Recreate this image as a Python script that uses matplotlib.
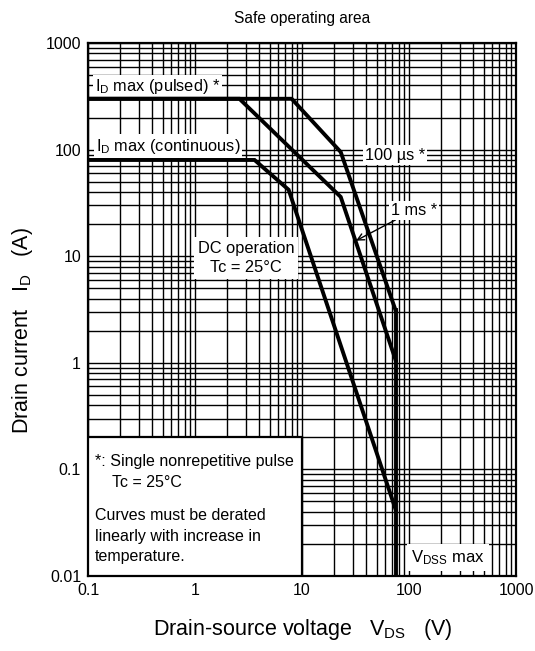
import matplotlib
matplotlib.use("Agg")
import matplotlib.pyplot as plt
from matplotlib.ticker import LogLocator, NullFormatter, FixedFormatter, FixedLocator
from matplotlib.patches import Rectangle

plt.rcParams['font.family'] = ['Liberation Sans', 'DejaVu Sans']
plt.rcParams['mathtext.fontset'] = 'custom'
plt.rcParams['mathtext.rm'] = 'Liberation Sans'
plt.rcParams['mathtext.it'] = 'Liberation Sans'

# safe operating area curves (VDS in V, ID in A)
v_100us = [0.1, 8.0, 23, 75]
i_100us = [300, 300, 95, 3.1]
v_1ms = [0.1, 2.6, 23, 75]
i_1ms = [300, 300, 36, 1.06]
v_dc = [0.1, 3.6, 7.5, 75]
i_dc = [80, 80, 42, 0.042]
v_dss = [75, 75]
i_dss = [3.1, 0.01]

x_ticks = [0.1, 1, 10, 100, 1000]
x_labels = ['0.1', '1', '10', '100', '1000']
y_ticks = [0.01, 0.1, 1, 10, 100, 1000]
y_labels = ['0.01', '0.1', '1', '10', '100', '1000']

fig = plt.figure(figsize=(5.35, 6.51), dpi=100)
ax = fig.add_axes([0.1645, 0.1152, 0.80, 0.8187])

ax.set_xscale('log')
ax.set_yscale('log')
ax.set_xlim(0.1, 1000)
ax.set_ylim(0.01, 1000)

ax.xaxis.set_major_locator(FixedLocator(x_ticks))
ax.xaxis.set_major_formatter(FixedFormatter(x_labels))
ax.yaxis.set_major_locator(FixedLocator(y_ticks))
ax.yaxis.set_major_formatter(FixedFormatter(y_labels))
ax.xaxis.set_minor_locator(LogLocator(base=10, subs=range(2, 10), numticks=20))
ax.yaxis.set_minor_locator(LogLocator(base=10, subs=range(2, 10), numticks=20))
ax.xaxis.set_minor_formatter(NullFormatter())
ax.yaxis.set_minor_formatter(NullFormatter())
ax.tick_params(which='both', length=0, labelsize=11.5, pad=5)

ax.grid(which='both', color='black', lw=1.0)
ax.set_axisbelow(True)
for s in ax.spines.values():
    s.set_linewidth(1.6)

lw = 2.8
ax.plot(v_100us, i_100us, color='black', lw=lw, zorder=5, solid_joinstyle='miter')
ax.plot(v_1ms, i_1ms, color='black', lw=lw, zorder=5, solid_joinstyle='miter')
ax.plot(v_dc, i_dc, color='black', lw=lw, zorder=5, solid_joinstyle='miter')
ax.plot(v_dss, i_dss, color='black', lw=lw, zorder=5)

wb = dict(facecolor='white', edgecolor='none', pad=1.5)
fs = 11.8
ax.text(0.116, 390, r'I$_\mathrm{D}$ max (pulsed) *', fontsize=fs, va='center', ha='left', bbox=wb, zorder=4)
ax.text(0.118, 108, r'I$_\mathrm{D}$ max (continuous)', fontsize=fs, va='center', ha='left', bbox=wb, zorder=4)
ax.text(74, 89, '100 µs *', fontsize=fs, va='center', ha='center', bbox=wb, zorder=4)
ax.annotate('1 ms *', xy=(32, 14), xytext=(111, 27), fontsize=fs, va='center', ha='center',
            bbox=wb, zorder=6,
            arrowprops=dict(arrowstyle='->', color='black', lw=1.0, shrinkA=0, shrinkB=0))
ax.text(3.0, 9.6, 'DC operation\nTc = 25°C', fontsize=fs, va='center', ha='center',
        linespacing=1.3, bbox=dict(facecolor='white', edgecolor='none', pad=3), zorder=4)
ax.text(231, 0.0148, r'V$_\mathrm{DSS}$ max', fontsize=12, va='center', ha='center',
        bbox=dict(facecolor='white', edgecolor='none', pad=3), zorder=4)

# note box in lower left
nfs = 11.5
ax.add_patch(Rectangle((0, 0), 0.5, 0.261, transform=ax.transAxes, facecolor='white',
                       edgecolor='black', lw=1.6, zorder=4))
ax.text(0.016, 0.214, '*: Single nonrepetitive pulse', transform=ax.transAxes, fontsize=nfs, va='center', zorder=6)
ax.text(0.056, 0.176, 'Tc = 25°C', transform=ax.transAxes, fontsize=nfs, va='center', zorder=6)
ax.text(0.016, 0.114, 'Curves must be derated', transform=ax.transAxes, fontsize=nfs, va='center', zorder=6)
ax.text(0.016, 0.075, 'linearly with increase in', transform=ax.transAxes, fontsize=nfs, va='center', zorder=6)
ax.text(0.016, 0.036, 'temperature.', transform=ax.transAxes, fontsize=nfs, va='center', zorder=6)

ax.set_title('Safe operating area', fontsize=11.2, y=1.022)
ax.set_xlabel(r'Drain-source voltage   V$_\mathrm{DS}$   (V)', fontsize=15.5)
ax.xaxis.set_label_coords(0.502, -0.077)
ax.set_ylabel(r'Drain current   I$_\mathrm{D}$   (A)', fontsize=15.5)
ax.yaxis.set_label_coords(-0.124, 0.46)

fig.savefig('out.png', dpi=100)
